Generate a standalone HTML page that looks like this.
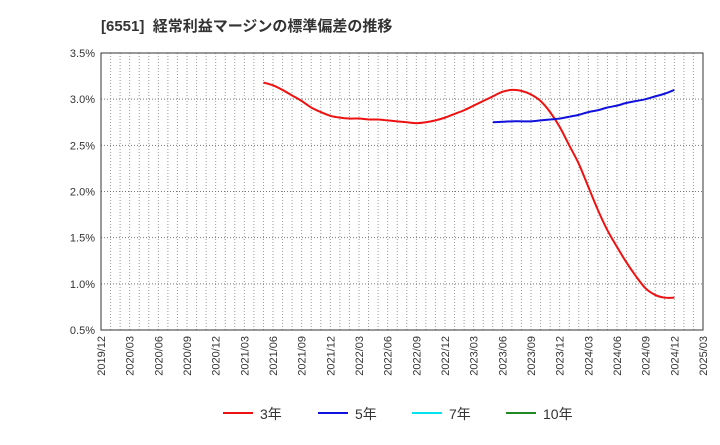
<!DOCTYPE html>
<html><head><meta charset="utf-8"><style>
body{margin:0;background:#fff;font-family:"Liberation Sans","Noto Sans CJK JP",sans-serif}
svg text{font-family:"Liberation Sans","Noto Sans CJK JP",sans-serif}
</style></head><body>
<svg id="c" width="720" height="440">
<text x="101" y="31" font-size="15" font-weight="bold" fill="#333" xml:space="preserve" style="white-space:pre">[6551]  経常利益マージンの標準偏差の推移</text>
<g id="grid"></g><g id="series"></g><g id="axes"></g><g id="legend"></g>
</svg>
<script>
const yTicks=[0.5,1.0,1.5,2.0,2.5,3.0,3.5];
const xLabels=["2019/12","2020/03","2020/06","2020/09","2020/12","2021/03","2021/06","2021/09","2021/12","2022/03","2022/06","2022/09","2022/12","2023/03","2023/06","2023/09","2023/12","2024/03","2024/06","2024/09","2024/12","2025/03"];
const red3Start=17;
const red3=[3.18,3.15,3.10,3.04,2.98,2.91,2.86,2.82,2.80,2.79,2.79,2.78,2.78,2.77,2.76,2.75,2.74,2.75,2.77,2.80,2.84,2.88,2.93,2.98,3.03,3.08,3.10,3.09,3.05,2.98,2.86,2.70,2.50,2.30,2.05,1.80,1.58,1.40,1.23,1.08,0.95,0.88,0.85,0.85];
const blue5Start=41;
const blue5=[2.75,2.755,2.76,2.76,2.76,2.77,2.78,2.79,2.81,2.83,2.86,2.88,2.91,2.93,2.96,2.98,3.00,3.03,3.06,3.10];
const L=101,R=703,T=53,B=330,months=63;
const xs=m=>L+m*(R-L)/months;
const ys=v=>B-(v-0.5)/3*(B-T);
const NS="http://www.w3.org/2000/svg";
function mk(p,t,a){const e=document.createElementNS(NS,t);for(const k in a)e.setAttribute(k,a[k]);p.appendChild(e);return e;}
const grid=document.getElementById('grid'),axes=document.getElementById('axes'),ser=document.getElementById('series'),leg=document.getElementById('legend');
for(let m=1;m<months;m++){const g=mk(grid,'line',{x1:xs(m),x2:xs(m),y1:T,y2:B,stroke:'#999','stroke-dasharray':'1,2'});

}
yTicks.forEach(v=>{const y=ys(v);
if(v>0.5&&v<3.5){const g=mk(grid,'line',{x1:L,x2:R,y1:y,y2:y,stroke:'#777','stroke-dasharray':'1,2'});

}
const t=mk(axes,'text',{x:L-6,y:y+4,'text-anchor':'end','font-size':11,fill:'#333'});t.textContent=v.toFixed(1)+'%';

});
xLabels.forEach((s,i)=>{const x=xs(i*3);const t=mk(axes,'text',{transform:`translate(${x+4},${B+6}) rotate(-90)`,'text-anchor':'end','font-size':11,fill:'#333'});t.textContent=s;

});
const fr=mk(axes,'rect',{x:L,y:T,width:R-L,height:B-T,fill:'none',stroke:'#333'});


function line(d,s,c,n){
const P=d.map((v,i)=>[xs(s+i),ys(v)]);
let str='M'+P[0][0]+','+P[0][1];
for(let i=0;i<P.length-1;i++){const p0=P[Math.max(0,i-1)],p1=P[i],p2=P[i+1],p3=P[Math.min(P.length-1,i+2)];
str+=' C'+(p1[0]+(p2[0]-p0[0])/6)+','+(p1[1]+(p2[1]-p0[1])/6)+' '+(p2[0]-(p3[0]-p1[0])/6)+','+(p2[1]-(p3[1]-p1[1])/6)+' '+p2[0]+','+p2[1];}
const p=mk(ser,'path',{d:str,fill:'none',stroke:c,'stroke-width':2,'stroke-linejoin':'round'});

}
line(red3,red3Start,'#ee1111','series-3y');
line(blue5,blue5Start,'#1111dd','series-5y');
[['3年','#ee1111',223],['5年','#1111dd',318],['7年','#00e5ee',412],['10年','#228822',506]].forEach(([l,c,x])=>{
const g=mk(leg,'g',{});


mk(g,'line',{x1:x,x2:x+30,y1:413,y2:413,stroke:c,'stroke-width':2});
const t=mk(g,'text',{x:x+37,y:419,'font-size':14,fill:'#333'});t.textContent=l;});
</script>
</body></html>
